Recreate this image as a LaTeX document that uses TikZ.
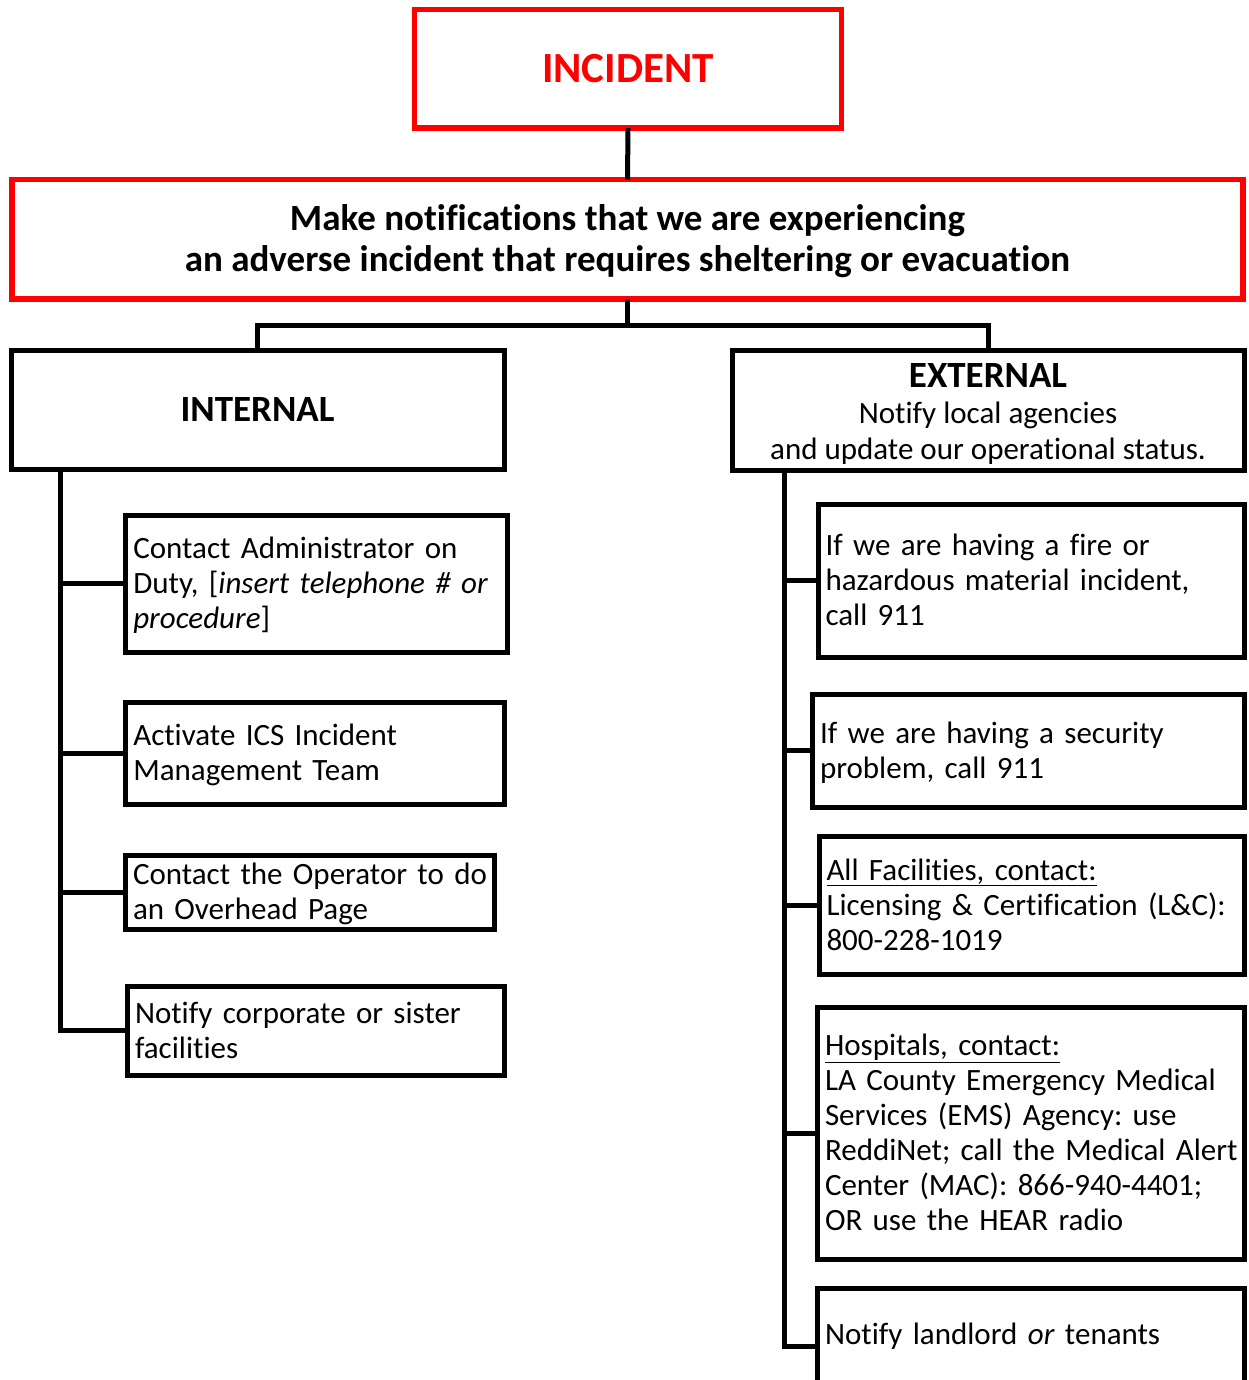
\documentclass[tikz,border=0pt]{standalone}
\usepackage{fontspec}
\setmainfont{Carlito}[Ligatures=NoCommon]
\frenchspacing
\newcommand\lns[1]{\raisebox{-3pt}[\height][\depth]{\begin{tabular}{@{}l@{}}#1\end{tabular}}}
\newcommand\clns[2]{\raisebox{#1}[\height][\depth]{\begin{tabular}{@{}c@{}}#2\end{tabular}}}
\tikzset{
  basebox/.style={draw, line width=5pt, outer sep=0pt, inner ysep=0pt, inner xsep=7.5pt, rectangle},
  redbox/.style={basebox, draw=red, line width=5.5pt, align=center},
  headbox/.style={basebox, draw=black, align=center},
  itembox/.style={basebox, draw=black, align=left, font=\fontsize{31}{35}\selectfont},
  conn/.style={draw=black, line width=5pt},
}
\begin{document}
\begin{tikzpicture}[x=1pt,y=-1pt]
\useasboundingbox (0,0) rectangle (1248,1380);
\clip (0,0) rectangle (1248,1380);
\fill[white] (0,0) rectangle (1248,1380);

% top
\node[redbox, minimum width=427pt, minimum height=118.5pt, text=red,
      font=\bfseries\fontsize{43}{45}\selectfont] (inc) at (628,68.75) {INCIDENT};
\node[redbox, minimum width=1231pt, minimum height=119.5pt,
      font=\bfseries\fontsize{37}{41}\selectfont] (mk) at (627.5,239.25)
  {\clns{-4pt}{Make notifications that we are experiencing\\an adverse incident that requires sheltering or evacuation}};

% branch heads
\node[headbox, minimum width=493pt, minimum height=118.5pt,
      font=\bfseries\fontsize{37}{41}\selectfont] (int) at (257.5,409.75) {INTERNAL};
\node[headbox, minimum width=512pt, minimum height=119.5pt,
      font=\fontsize{31}{36}\selectfont] (ext) at (988,410.5)
  {\clns{-6pt}{{\bfseries\fontsize{37}{36}\selectfont EXTERNAL}\\Notify local agencies\\and update our operational status.}};

% internal items
\node[itembox, minimum width=381.2pt, minimum height=137pt, text width=366.2pt] (i1) at (316.4,583.5)
  {\lns{Contact Administrator on\\Duty, [\textit{insert telephone \# or}\\\textit{procedure}]}};
\node[itembox, minimum width=378.2pt, minimum height=101.5pt, text width=363.2pt] (i2) at (314.9,753.25)
  {\lns{Activate ICS Incident\\Management Team}};
\node[itembox, minimum width=368.5pt, minimum height=74pt, text width=353.5pt] (i3) at (309.75,892)
  {\lns{Contact the Operator to do\\an Overhead Page}};
\node[itembox, minimum width=376.5pt, minimum height=89.5pt, text width=361.5pt] (i4) at (315.75,1030.75)
  {\lns{Notify corporate or sister\\facilities}};

% external items
\node[itembox, minimum width=426pt, minimum height=153pt, text width=411pt] (e1) at (1031,580.5)
  {\lns{If we are having a fire or\\hazardous material incident,\\call 911}};
\node[itembox, minimum width=431.5pt, minimum height=113.5pt, text width=416.5pt] (e2) at (1028.25,750.75)
  {\lns{If we are having a security\\problem, call 911}};
\node[itembox, minimum width=425pt, minimum height=138pt, text width=410pt] (e3) at (1031.5,905)
  {\lns{\underline{All Facilities, contact:}\\Licensing \& Certification (L\&C):\\800-228-1019}};
\node[itembox, minimum width=426.5pt, minimum height=251.5pt, text width=411.5pt] (e4) at (1030.75,1133.25)
  {\lns{\underline{Hospitals, contact:}\\LA County Emergency Medical\\Services (EMS) Agency: use\\ReddiNet; call the Medical Alert\\Center (MAC): 866-940-4401;\\OR use the HEAR radio}};
\node[itembox, anchor=north, minimum width=426.5pt, text width=411.5pt, text height=56pt, text depth=60pt] (e5) at (1030.75,1288)
  {Notify landlord \textit{or} tenants};

% connectors
\draw[conn] (inc.south) -- (mk.north);
\draw[conn] (mk.south) -- ++(0,26) coordinate (split);
\draw[conn] (split) -| (int.north);
\draw[conn] (split) -| (ext.north);

\coordinate (itop) at ([xshift=49.5pt]int.south west);
\draw[conn] (itop) |- (i4.west);
\foreach \n in {i1,i2,i3} \draw[conn] (\n.west) -- (\n.west -| itop);

\coordinate (etop) at ([xshift=52pt]ext.south west);
\draw[conn] (etop) |- (e5.west);
\foreach \n in {e1,e2,e3,e4} \draw[conn] (\n.west) -- (\n.west -| etop);
\end{tikzpicture}
\end{document}
